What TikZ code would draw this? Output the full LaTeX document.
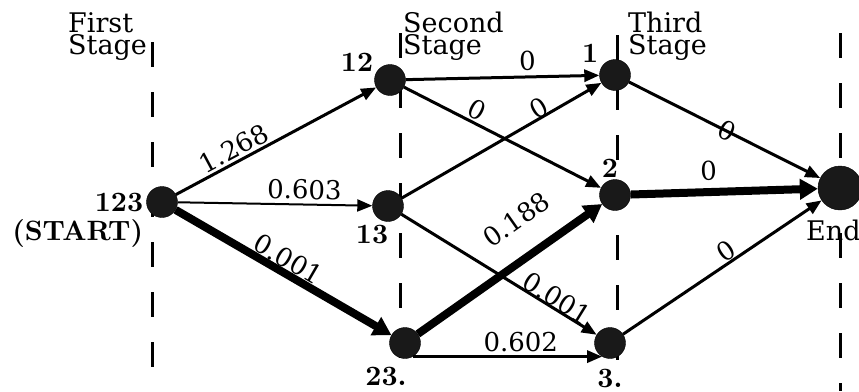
\documentclass[tikz,border=0pt]{standalone}
\usepackage{fontspec}
\setmainfont{lmroman10}[Extension=.otf, UprightFont=*-regular, BoldFont=*-bold, ItalicFont=*-italic, BoldItalicFont=*-bolditalic]
\newfontfamily\costfont{DejaVu Serif}
\usepackage{tikz}
\usetikzlibrary{arrows.meta,positioning}

\begin{document}
\begin{tikzpicture}[
    x=1pt, y=-1pt,
    state/.style={circle, fill=black!90, draw=black, inner sep=0pt, minimum size=31pt},
    endstate/.style={state, minimum size=44pt},
    stagelabel/.style={align=left, anchor=north west, inner sep=0pt, font=\costfont\fontsize{27}{22}\selectfont},
    numlabel/.style={inner sep=0pt, font=\fontsize{28}{28}\selectfont\bfseries},
    cost/.style={sloped, above=1pt, inner sep=1pt, font=\costfont\fontsize{26}{26}\selectfont},
    stageline/.style={line width=3pt, dash pattern=on 25pt off 25pt},
    arrow/.style={-{Triangle[length=15pt,width=12pt]}, line width=3pt},
    thinarrow/.style={arrow, line width=2pt},
    heavyarrow/.style={-{Triangle[length=18pt,width=20pt]}, line width=8pt}
]
\useasboundingbox (0,0) rectangle (859,391);

% Stage lines
\draw[stageline] (152,42) -- (152,391);
\draw[stageline] (400,33) -- (400,360);
\draw[stageline] (617,35) -- (617,360);
\draw[stageline] (840,33) -- (840,391);

% Stage titles
\node[stagelabel] (first) at (68,12) {First\\Stage};
\node[stagelabel] (second) at (403,12) {Second\\Stage};
\node[stagelabel] (third) at (628,12) {Third\\Stage};

% States
\node[state] (n123) at (162,202) {};
\node[state] (n12) at (390,80) {};
\node[state] (n13) at (388,206) {};
\node[state] (n23) at (405,343) {};
\node[state] (n1) at (615,75) {};
\node[state] (n2) at (615,195) {};
\node[state] (n3) at (610,343) {};
\node[endstate] (end) at (840,188) {};

% State names
\node[numlabel, left=3pt of n123] (l123) {123};
\node[numlabel, below=8pt of l123.south east, anchor=north east] (lstart) {(START)};
\node[numlabel, left=1pt of n12, yshift=18pt] (l12) {12};
\node[numlabel, below=3pt of n13, xshift=-16pt] (l13) {13};
\node[numlabel, below=8pt of n23, xshift=-19pt] (l23) {23.};
\node[numlabel, left=1pt of n1, yshift=22pt] (l1) {1};
\node[numlabel, above=2pt of n2, xshift=-5pt] (l2) {2};
\node[numlabel, below=10pt of n3] (l3) {3.};
\node[anchor=base west, inner sep=0pt, font=\costfont\fontsize{27}{27}\selectfont] (lend) at (806,240) {End};

% Arrows
\draw[arrow] (n123) -- (n12) node[cost, pos=.32] {1.268};
\draw[thinarrow] (n123) -- (n13) node[cost, pos=.65, above=3pt] {0.603};
\draw[heavyarrow] (n123) -- (n23) node[cost, pos=.49, above=-1pt] {0.001};
\draw[arrow] (n12) -- (n1) node[cost, pos=.63, above=4pt] {0};
\draw[arrow] (n12) -- (n2) node[cost, pos=.34] {0};
\draw[arrow] (n13) -- (n1) node[cost, pos=.71, above=-3pt] {0};
\draw[arrow] (n13) -- (n3) node[cost, pos=.77, above=-2pt] {0.001};
\draw[heavyarrow] (n23) -- (n2) node[cost, pos=.65, above=22pt] {0.188};
\draw[arrow] (n23.-60) -- (n3.-120) node[cost, pos=.57, above=2pt] {0.602};
\draw[arrow] (n1) -- (end) node[cost, pos=.51, above=-12pt] {0};
\draw[heavyarrow] (n2) -- (end) node[cost, pos=.42, above=6pt] {0};
\draw[arrow] (n3) -- (end) node[cost, pos=.55, above=-1pt] {0};

\end{tikzpicture}
\end{document}
